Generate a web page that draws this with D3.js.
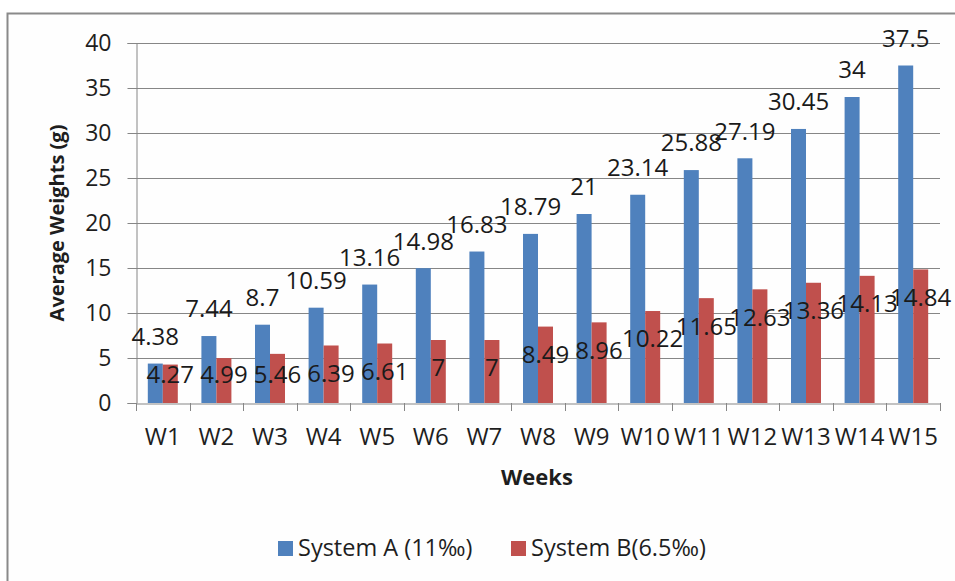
<!DOCTYPE html>
<html>
<head>
<meta charset="utf-8">
<script src="https://cdn.jsdelivr.net/npm/d3@7"></script>
<style>
  html, body { margin: 0; padding: 0; background: #ffffff; }
  svg { display: block; font-family: "Open Sans", "DejaVu Sans", sans-serif; }
</style>
</head>
<body>
<svg id="chart" width="955" height="581"></svg>
<script>
// Weekly average weights for the two rearing systems
const weeks = ["W1","W2","W3","W4","W5","W6","W7","W8","W9","W10","W11","W12","W13","W14","W15"];
const systemA = [4.38, 7.44, 8.7, 10.59, 13.16, 14.98, 16.83, 18.79, 21, 23.14, 25.88, 27.19, 30.45, 34, 37.5];
const systemB = [4.27, 4.99, 5.46, 6.39, 6.61, 7, 7, 8.49, 8.96, 10.22, 11.65, 12.63, 13.36, 14.13, 14.84];
const seriesNames = ["System A (11‰)", "System B(6.5‰)"];
const seriesColors = ["#4f81bd", "#c0504d"];
const yTicks = [0, 5, 10, 15, 20, 25, 30, 35, 40];

const svg = d3.select("#chart");
const plot = { left: 136, right: 940, top: 43, bottom: 403 };

// outer frame
svg.append("rect")
  .attr("x", 7.5).attr("y", 13.5)
  .attr("width", 1000).attr("height", 1000)
  .attr("fill", "#fefefe")
  .attr("stroke", "#8a8a8a").attr("stroke-width", 2);

const y = d3.scaleLinear().domain([0, 40]).range([plot.bottom, plot.top]);
const x0 = d3.scaleBand().domain(weeks).range([plot.left, plot.right]).paddingInner(0).paddingOuter(0);
const x1 = d3.scaleBand().domain([0, 1]).range([0, x0.bandwidth()]).paddingInner(0).paddingOuter(0.787);

// horizontal gridlines
svg.append("g")
  .selectAll("line")
  .data(yTicks.filter(t => t > 0))
  .join("line")
  .attr("x1", plot.left).attr("x2", plot.right)
  .attr("y1", d => Math.round(y(d)) + 0.5).attr("y2", d => Math.round(y(d)) + 0.5)
  .attr("stroke", "#868686").attr("stroke-width", 1);

// y axis
const yAxis = svg.append("g")
  .attr("transform", `translate(${plot.left + 0.5},0)`)
  .call(d3.axisLeft(y).tickValues(yTicks).tickSize(9).tickPadding(16));
yAxis.select(".domain").attr("stroke", "#868686");
yAxis.selectAll(".tick line").attr("stroke", "#868686");
yAxis.selectAll(".tick text")
  .attr("font-size", 23).attr("fill", "#1e1e1e").attr("font-family", "Open Sans");

// bars
const rows = weeks.map((w, i) => ({ week: w, values: [systemA[i], systemB[i]] }));
const groups = svg.append("g").selectAll("g")
  .data(rows).join("g")
  .attr("transform", d => `translate(${x0(d.week)},0)`);

groups.selectAll("rect")
  .data(d => d.values.map((v, s) => ({ v, s })))
  .join("rect")
  .attr("x", d => x1(d.s))
  .attr("width", x1.bandwidth())
  .attr("y", d => y(d.v))
  .attr("height", d => y(0) - y(d.v))
  .attr("fill", d => seriesColors[d.s]);

// x axis
const xAxis = svg.append("g")
  .attr("transform", `translate(0,${plot.bottom + 0.5})`)
  .call(d3.axisBottom(x0).tickSize(0).tickPadding(24));
xAxis.select(".domain").attr("stroke", "#868686");
xAxis.selectAll(".tick text")
  .attr("font-size", 24).attr("fill", "#1e1e1e").attr("font-family", "Open Sans");
// category boundary tick marks
svg.append("g").selectAll("line")
  .data(d3.range(weeks.length + 1))
  .join("line")
  .attr("x1", i => Math.round(plot.left + i * x0.step()) + 0.5)
  .attr("x2", i => Math.round(plot.left + i * x0.step()) + 0.5)
  .attr("y1", plot.bottom).attr("y2", plot.bottom + 8)
  .attr("stroke", "#868686");

// value labels
groups.selectAll("text.val")
  .data(d => d.values.map((v, s) => ({ v, s })))
  .join("text")
  .attr("class", "val")
  .attr("x", d => x1(d.s) + x1.bandwidth() / 2)
  .attr("y", d => d.s === 0 ? y(d.v) - 27 : Math.min(y(d.v) + 28, plot.bottom - 28))
  .attr("dy", "0.35em")
  .attr("text-anchor", "middle")
  .attr("font-size", 24)
  .attr("fill", "#1a1a1a")
  .text(d => d.v);

// axis titles
svg.append("text")
  .attr("transform", `translate(57,${(plot.top + plot.bottom) / 2}) rotate(-90)`)
  .attr("text-anchor", "middle").attr("dy", "0.35em")
  .attr("font-size", 20).attr("font-weight", "bold").attr("fill", "#1e1e1e")
  .text("Average Weights (g)");

svg.append("text")
  .attr("x", 537).attr("y", 477).attr("dy", "0.35em")
  .attr("text-anchor", "middle")
  .attr("font-size", 22).attr("font-weight", "bold").attr("fill", "#1e1e1e")
  .text("Weeks");

// legend
const legendX = [278, 511];
const legend = svg.append("g").selectAll("g")
  .data(seriesNames).join("g")
  .attr("transform", (d, i) => `translate(${legendX[i]},548)`);
legend.append("rect")
  .attr("x", 0).attr("y", -7).attr("width", 15).attr("height", 15)
  .attr("fill", (d, i) => seriesColors[i]);
legend.append("text")
  .attr("x", 20).attr("dy", "0.35em")
  .attr("font-size", 23.5).attr("fill", "#1e1e1e")
  .text(d => d);
</script>
</body>
</html>
